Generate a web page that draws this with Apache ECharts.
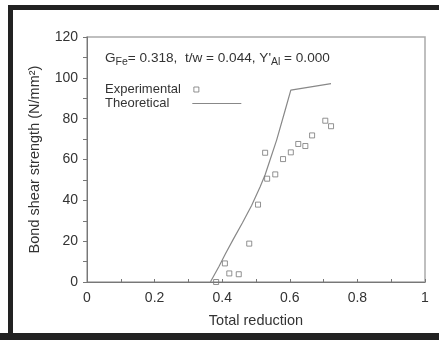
<!DOCTYPE html>
<html>
<head>
<meta charset="utf-8">
<script src="https://cdn.jsdelivr.net/npm/echarts@6/dist/echarts.min.js"></script>
<style>
  html, body { margin: 0; padding: 0; background: #fff; }
  #chart { width: 439px; height: 340px; }
</style>
</head>
<body>
<div id="chart"></div>
<script>
// values
const xTicks = [0, 0.2, 0.4, 0.6, 0.8, 1]
const yTicks = [0, 20, 40, 60, 80, 100, 120]

const expX = [0.382, 0.408, 0.421, 0.449, 0.48, 0.506, 0.527, 0.533, 0.557, 0.58, 0.603, 0.625, 0.646, 0.666, 0.705, 0.722]
const expY = [0, 9.1, 4.2, 3.8, 18.8, 37.9, 63.3, 50.6, 52.7, 60.2, 63.5, 67.6, 66.6, 71.8, 79.0, 76.3]

const theoX = [0.365, 0.39, 0.41, 0.433, 0.46, 0.487, 0.512, 0.527, 0.541, 0.561, 0.586, 0.603, 0.722]
const theoY = [0, 7.5, 14, 21, 29, 37.5, 46.5, 52.5, 59.5, 69.5, 84, 94, 97.2]

const textColor = '#333'
const font = 'Liberation Sans, Arial, sans-serif'

const chart = echarts.init(document.getElementById('chart'))

const option = {
  animation: false,
  backgroundColor: '#fff',
  textStyle: { fontFamily: font, color: textColor },
  grid: {
    left: 87, top: 37, right: 14, bottom: 58,
    show: true, borderColor: '#aaa', borderWidth: 1.5, backgroundColor: 'transparent'
  },
  legend: [
    {
      data: [{ name: 'Experimental', icon: 'rect' }],
      left: 105, top: 83, padding: 0,
      align: 'right', itemWidth: 5, itemHeight: 5, itemGap: 0,
      textStyle: { fontSize: 13, color: textColor, fontFamily: font, padding: [0, 8, 0, 0] },
      itemStyle: { color: 'transparent', borderColor: '#777', borderWidth: 1 },
      selectedMode: false
    },
    {
      data: [{ name: 'Theoretical', icon: 'rect' }],
      left: 105, top: 97, padding: 0,
      align: 'right', itemWidth: 49, itemHeight: 1.2, itemGap: 0,
      textStyle: { fontSize: 13, color: textColor, fontFamily: font, padding: [0, 18, 0, 0] },
      itemStyle: { color: '#888', borderWidth: 0 },
      lineStyle: { width: 0 },
      selectedMode: false
    }
  ],
  graphic: [
    { type: 'rect', shape: { x: 8, y: 5, width: 431, height: 5 }, style: { fill: '#222' }, silent: true },
    { type: 'rect', shape: { x: 8, y: 5, width: 5, height: 330 }, style: { fill: '#222' }, silent: true },
    { type: 'rect', shape: { x: 0, y: 333, width: 439, height: 7 }, style: { fill: '#222' }, silent: true },
    {
      type: 'text', left: 105, top: 51, silent: true,
      style: {
        text: '{t|G}{s|Fe}{t|= 0.318,  t/w = 0.044, Y\'}{s|Al}{t| = 0.000}',
        rich: {
          t: { fontSize: 13.6, fill: textColor, fontFamily: font },
          s: { fontSize: 10.5, fill: textColor, fontFamily: font, padding: [8, 0, 0, 0] }
        }
      }
    }
  ],
  xAxis: {
    type: 'value', min: 0, max: 1, interval: 0.2,
    name: 'Total reduction', nameLocation: 'middle', nameGap: 31,
    nameTextStyle: { fontSize: 14.5, color: textColor },
    axisLine: { show: true, lineStyle: { color: '#777', width: 1 } },
    axisTick: { show: true, inside: true, length: 3, lineStyle: { color: '#777' } },
    minorTick: { show: true, splitNumber: 2, length: 3, lineStyle: { color: '#777' } },
    splitLine: { show: false },
    axisLabel: {
      fontSize: 14, color: textColor, margin: 9,
      formatter: v => xTicks.includes(+v.toFixed(1)) ? String(+v.toFixed(1)) : ''
    }
  },
  yAxis: {
    type: 'value', min: 0, max: 120, interval: 20,
    name: 'Bond shear strength (N/mm²)', nameLocation: 'middle', nameGap: 45, nameRotate: 90,
    nameTextStyle: { fontSize: 14.5, color: textColor },
    axisLine: { show: true, lineStyle: { color: '#777', width: 1 } },
    axisTick: { show: true, inside: false, length: 4, lineStyle: { color: '#777' } },
    minorTick: { show: true, splitNumber: 2, length: 4, lineStyle: { color: '#777' } },
    splitLine: { show: false },
    axisLabel: {
      fontSize: 14, color: textColor, margin: 9,
      formatter: v => yTicks.includes(v) ? String(v) : ''
    }
  },
  series: [
    {
      name: 'Theoretical', type: 'line',
      data: theoX.map((x, i) => [x, theoY[i]]),
      showSymbol: false, symbol: 'none',
      lineStyle: { color: '#888', width: 1.2 },
      itemStyle: { color: '#888' },
      z: 2
    },
    {
      name: 'Experimental', type: 'scatter',
      data: expX.map((x, i) => [x, expY[i]]),
      symbol: 'rect', symbolSize: 5,
      itemStyle: { color: 'transparent', borderColor: '#777', borderWidth: 1 },
      z: 3
    }
  ]
}

chart.setOption(option)
</script>
</body>
</html>
